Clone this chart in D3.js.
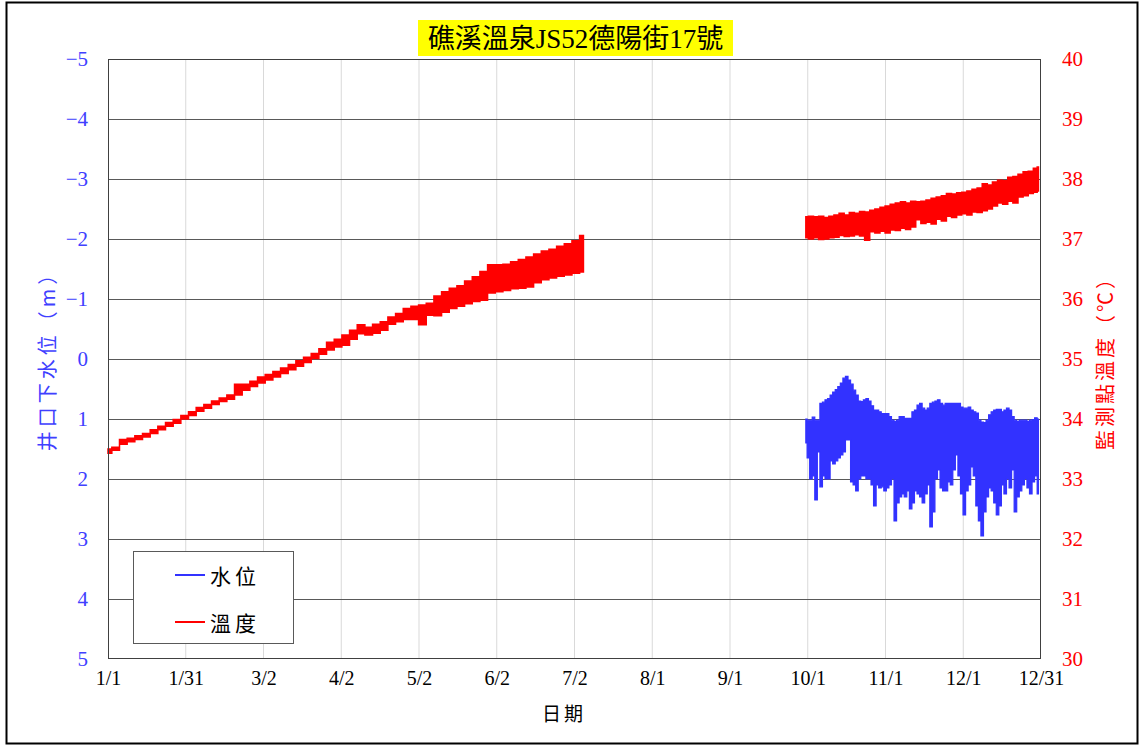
<!DOCTYPE html>
<html><head><meta charset="utf-8">
<script src="https://cdn.jsdelivr.net/npm/d3@7"></script>
<style>
body{margin:0;background:#fff;}
svg{display:block;}
</style></head>
<body>
<svg id="chart" width="1144" height="747"></svg>
<script>
// ---------- data ----------
const titleText = "礁溪溫泉JS52德陽街17號";
const xTickLabels = ["1/1","1/31","3/2","4/2","5/2","6/2","7/2","8/1","9/1","10/1","11/1","12/1","12/31"];
const leftTicks = [-5,-4,-3,-2,-1,0,1,2,3,4,5];
const rightTicks = [30,31,32,33,34,35,36,37,38,39,40];

// temperature, first record period (day of year, low, high)
const tempDays1 = [0,3,6,9,12,15,18,21,24,27,30,33,36,39,42,45,48,51,54,57,60,63,66,69,72,75,78,81,84,87,90,93,96,99,102,105,108,111,114,117,120,123,126,129,132,135,138,141,144,147,150,153,156,159,162,165,168,171,174,177,180,183,186];
const tempLo1 = [33.43,33.48,33.58,33.62,33.66,33.70,33.76,33.82,33.88,33.93,34.00,34.06,34.13,34.18,34.24,34.29,34.33,34.40,34.48,34.54,34.60,34.65,34.70,34.76,34.82,34.88,34.94,35.01,35.08,35.15,35.20,35.23,35.33,35.42,35.40,35.43,35.48,35.58,35.62,35.66,35.66,35.57,35.73,35.72,35.78,35.84,35.88,35.92,35.96,35.98,36.10,36.12,36.14,36.17,36.18,36.20,36.27,36.32,36.35,36.38,36.40,36.43,36.45];
const tempHi1 = [33.50,33.53,33.66,33.68,33.72,33.76,33.82,33.88,33.94,33.99,34.06,34.12,34.19,34.24,34.30,34.35,34.40,34.58,34.58,34.63,34.70,34.74,34.79,34.85,34.91,34.97,35.03,35.09,35.17,35.28,35.33,35.40,35.48,35.57,35.53,35.58,35.62,35.70,35.76,35.84,35.88,35.90,35.93,36.05,36.12,36.18,36.22,36.30,36.37,36.46,36.57,36.57,36.58,36.62,36.66,36.70,36.75,36.80,36.83,36.88,36.92,36.97,37.06];

// temperature, second record period
const tempDays2 = [273,275,277,279,281,283,285,287,289,291,293,295,297,299,301,303,305,307,309,311,313,315,317,319,321,323,325,327,329,331,333,335,337,339,341,343,345,347,349,351,353,355,357,359,361,363,364];
const tempLo2 = [37.02,37.00,37.02,36.99,37.00,37.02,37.03,37.06,37.04,37.05,37.07,37.05,36.98,37.12,37.10,37.13,37.10,37.15,37.14,37.18,37.16,37.20,37.32,37.26,37.28,37.25,37.33,37.30,37.38,37.36,37.40,37.42,37.40,37.45,37.44,37.47,37.50,37.55,37.60,37.58,37.63,37.60,37.70,37.72,37.76,37.78,37.80];
const tempHi2 = [37.37,37.38,37.37,37.38,37.36,37.38,37.40,37.43,37.40,37.44,37.43,37.46,37.45,37.48,37.50,37.53,37.55,37.58,37.60,37.62,37.60,37.63,37.62,37.63,37.65,37.68,37.70,37.72,37.76,37.75,37.77,37.78,37.80,37.83,37.85,37.92,37.90,37.95,37.98,37.97,38.03,38.04,38.08,38.12,38.13,38.18,38.20];

// water level below well mouth (m), daily envelope
const levelDays = [273,274,275,276,277,278,279,280,281,282,283,284,285,286,287,288,289,290,291,292,293,294,295,296,297,298,299,300,301,302,303,304,305,306,307,308,309,310,311,312,313,314,315,316,317,318,319,320,321,322,323,324,325,326,327,328,329,330,331,332,333,334,335,336,337,338,339,340,341,342,343,344,345,346,347,348,349,350,351,352,353,354,355,356,357,358,359,360,361,362,363,364];
const levelTop = [1.00,1.02,1.02,0.97,1.02,1.02,0.74,0.72,0.68,0.66,0.60,0.55,0.51,0.46,0.40,0.32,0.29,0.35,0.42,0.52,0.60,0.70,0.71,0.68,0.66,0.70,0.78,0.85,0.85,0.88,0.91,0.91,0.91,0.96,1.02,1.04,1.02,0.96,0.96,0.99,0.99,0.99,0.88,0.85,0.77,0.74,0.82,0.85,0.82,0.74,0.72,0.70,0.68,0.74,0.77,0.74,0.74,0.74,0.74,0.74,0.74,0.80,0.82,0.82,0.80,0.85,0.88,0.90,1.02,1.05,1.06,1.02,0.93,0.88,0.85,0.84,0.84,0.88,0.85,0.82,0.85,0.96,1.02,1.04,1.02,1.02,1.02,1.04,1.02,1.01,0.98,1.00];
const levelBottom = [1.40,1.65,2.00,1.95,2.35,1.55,2.13,1.95,2.00,2.00,1.70,1.75,1.70,1.65,1.60,1.55,1.35,1.35,2.05,2.10,2.20,2.00,1.95,1.95,2.00,2.00,2.10,2.45,2.10,2.15,2.13,2.20,2.15,2.10,2.00,2.70,2.40,2.30,2.25,2.30,2.20,2.50,2.40,2.20,2.25,2.30,2.40,2.25,2.10,2.80,2.55,2.00,1.85,2.15,2.20,2.20,2.05,2.10,1.85,1.60,1.95,2.25,2.60,2.20,2.10,1.80,1.95,2.45,2.70,2.95,2.55,2.30,2.15,2.20,2.40,2.60,2.45,2.10,2.25,2.00,2.15,1.85,2.55,2.30,2.20,2.10,2.00,2.15,2.25,2.05,1.95,2.25];

const legendLabels = ["水位","溫度"];

// ---------- drawing ----------
const svg = d3.select("#chart");
const W = 1144, H = 747;
const plot = {left:108, right:1041, top:59, bottom:659};
const serif = "'Liberation Serif','Times New Roman','Noto Sans CJK TC',serif";
const cjk = "'Noto Sans CJK TC','Noto Sans CJK SC',sans-serif";
const blue = "#3232ff", red = "#ff0000";

svg.append("rect").attr("x",0).attr("y",0).attr("width",W).attr("height",H).attr("fill","#fff");
svg.append("rect").attr("x",6.5).attr("y",2.5).attr("width",1131).attr("height",741)
  .attr("fill","none").attr("stroke","#000").attr("stroke-width",2);

const x = d3.scaleLinear().domain([0,365]).range([plot.left, plot.right]);
const yL = d3.scaleLinear().domain([-5,5]).range([plot.top, plot.bottom]);
const yR = d3.scaleLinear().domain([30,40]).range([plot.bottom, plot.top]);
const xTickDays = xTickLabels.map((d,i)=> i*365/(xTickLabels.length-1));

// vertical grid
svg.append("g").selectAll("line").data(xTickDays.slice(1,-1)).join("line")
  .attr("x1",d=>x(d)).attr("x2",d=>x(d)).attr("y1",plot.top).attr("y2",plot.bottom)
  .attr("stroke","#d9d9d9").attr("stroke-width",1);
// horizontal grid
svg.append("g").selectAll("line").data(leftTicks.slice(1,-1)).join("line")
  .attr("x1",plot.left).attr("x2",plot.right).attr("y1",d=>Math.round(yL(d))+0.5).attr("y2",d=>Math.round(yL(d))+0.5)
  .attr("stroke","#595959").attr("stroke-width",1);

// data
const seg1 = tempDays1.map((d,i)=>({day:d, lo:tempLo1[i], hi:tempHi1[i]}));
const seg2 = tempDays2.map((d,i)=>({day:d, lo:tempLo2[i], hi:tempHi2[i]}));
const lev = levelDays.map((d,i)=>({day:d, top:levelTop[i], bottom:levelBottom[i]}));

const tArea = d3.area().x(d=>x(d.day)).y0(d=>yR(d.lo)).y1(d=>yR(d.hi)).curve(d3.curveStep);
const lArea = d3.area().x(d=>x(d.day)).y0(d=>yL(d.bottom)).y1(d=>yL(d.top)).curve(d3.curveStep);

svg.append("path").datum(lev).attr("d",lArea).attr("fill",blue).attr("stroke",blue).attr("stroke-width",1.2);
[seg1, seg2].forEach(s=>{
  svg.append("path").datum(s).attr("d",tArea).attr("fill",red).attr("stroke",red).attr("stroke-width",1.5);
});

// plot border
svg.append("rect").attr("x",plot.left+0.5).attr("y",plot.top+0.5)
  .attr("width",plot.right-plot.left-1).attr("height",plot.bottom-plot.top-1)
  .attr("fill","none").attr("stroke","#404040").attr("stroke-width",1);

// axes
const fmtL = d => d<0 ? "\u2212"+(-d) : String(d);
const axL = svg.append("g").attr("transform",`translate(${plot.left},0)`)
  .call(d3.axisLeft(yL).tickValues(leftTicks).tickSize(0).tickPadding(20).tickFormat(fmtL));
axL.select(".domain").remove();
axL.selectAll("text").attr("fill","#4040ff").style("font-family",serif).style("font-size","21px");

const axR = svg.append("g").attr("transform",`translate(${plot.right},0)`)
  .call(d3.axisRight(yR).tickValues(rightTicks).tickSize(0).tickPadding(21));
axR.select(".domain").remove();
axR.selectAll("text").attr("fill","#ff0000").style("font-family",serif).style("font-size","21px");

const axB = svg.append("g").attr("transform",`translate(0,${plot.bottom})`)
  .call(d3.axisBottom(x).tickValues(xTickDays).tickSize(0).tickPadding(12).tickFormat((d,i)=>xTickLabels[i]));
axB.select(".domain").remove();
axB.selectAll("text").attr("fill","#000").style("font-family",serif).style("font-size","20px");

// axis titles
svg.append("text").attr("transform","translate(46,356) rotate(-90)")
  .attr("text-anchor","middle").attr("dominant-baseline","central")
  .attr("fill","#4040ff").style("font-family",cjk).style("font-size","20px").style("letter-spacing","4px")
  .text("井口下水位（m）");
svg.append("text").attr("transform","translate(1104,358) rotate(-90)")
  .attr("text-anchor","middle").attr("dominant-baseline","central")
  .attr("fill","#ff0000").style("font-family",cjk).style("font-size","20px").style("letter-spacing","3px")
  .text("監測點溫度（℃）");
svg.append("text").attr("x",564).attr("y",712)
  .attr("text-anchor","middle").attr("dominant-baseline","central")
  .attr("fill","#000").style("font-family",cjk).style("font-size","19px").style("letter-spacing","3px")
  .text("日期");

// title
svg.append("rect").attr("x",418).attr("y",20).attr("width",315).attr("height",36).attr("fill","#ffff00");
svg.append("text").attr("x",575.5).attr("y",38.5)
  .attr("text-anchor","middle").attr("dominant-baseline","central")
  .attr("fill","#000").style("font-family",serif).style("font-size","27px")
  .text(titleText);

// legend
const lg = svg.append("g");
lg.append("rect").attr("x",133.5).attr("y",551.5).attr("width",160).attr("height",92)
  .attr("fill","#fff").attr("stroke","#595959").attr("stroke-width",1);
const legColors = [blue, red];
legendLabels.forEach((lab,i)=>{
  const yy = 575 + i*47;
  lg.append("line").attr("x1",175).attr("x2",205).attr("y1",yy).attr("y2",yy)
    .attr("stroke",legColors[i]).attr("stroke-width",2);
  lg.append("text").attr("x",210).attr("y",yy).attr("dominant-baseline","central")
    .attr("fill","#000").style("font-family",cjk).style("font-size","21px").style("letter-spacing","4px")
    .text(lab);
});
</script>
</body></html>
